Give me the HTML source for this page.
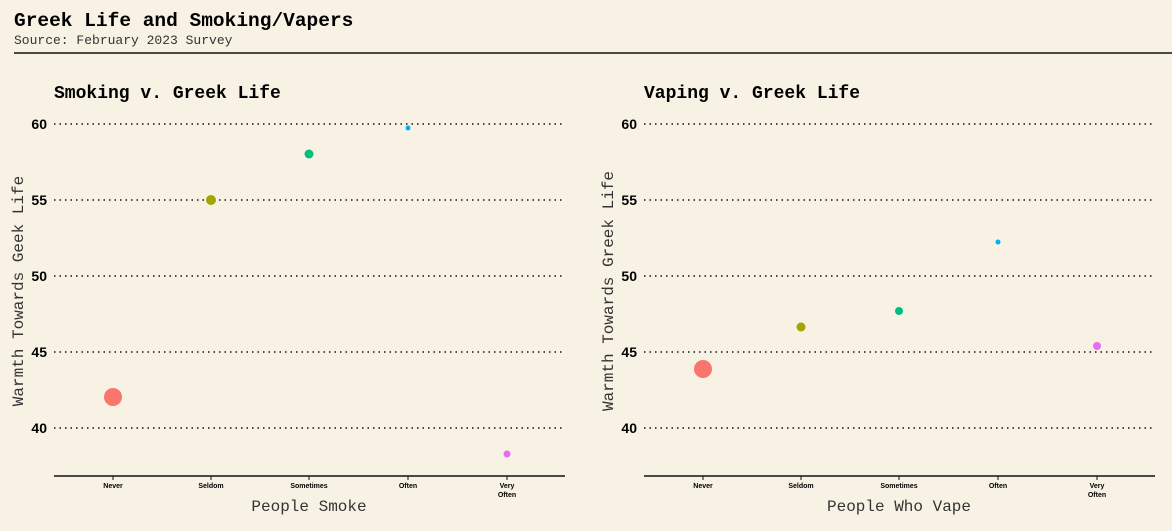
<!DOCTYPE html>
<html><head><style>
body{margin:0;background:#f8f2e5;}
svg{display:block}
</style></head><body>
<svg width="1172" height="531" xmlns="http://www.w3.org/2000/svg">
<rect width="1172" height="531" fill="#f8f2e5"/>
<text x="14" y="26" font-family="Liberation Mono, monospace" font-weight="bold" font-size="19.5" fill="#000">Greek Life and Smoking/Vapers</text>
<text x="14" y="44" font-family="Liberation Mono, monospace" font-size="13" fill="#333">Source: February 2023 Survey</text>
<line x1="14" y1="53" x2="1172" y2="53" stroke="#111" stroke-width="1.5"/>
<g font-family="Liberation Sans, sans-serif">
<!-- Left panel -->
<text x="54" y="98" font-family="Liberation Mono, monospace" font-weight="bold" font-size="18">Smoking v. Greek Life</text>
<g stroke="#111" stroke-width="1.6" stroke-dasharray="1.5,4">
<line x1="54" y1="124" x2="565" y2="124"/><line x1="54" y1="200" x2="565" y2="200"/><line x1="54" y1="276" x2="565" y2="276"/><line x1="54" y1="352" x2="565" y2="352"/><line x1="54" y1="428" x2="565" y2="428"/>
</g>
<g font-size="14" font-weight="bold" text-anchor="end"><text x="47" y="129">60</text><text x="47" y="205">55</text><text x="47" y="281">50</text><text x="47" y="357">45</text><text x="47" y="433">40</text></g>
<line x1="54" y1="476" x2="565" y2="476" stroke="#111" stroke-width="1.5"/>
<g stroke="#111"><line x1="113" y1="476" x2="113" y2="480"/><line x1="211" y1="476" x2="211" y2="480"/><line x1="309" y1="476" x2="309" y2="480"/><line x1="408" y1="476" x2="408" y2="480"/><line x1="507" y1="476" x2="507" y2="480"/></g>
<g font-size="7" font-weight="bold" text-anchor="middle"><text x="113" y="488">Never</text><text x="211" y="488">Seldom</text><text x="309" y="488">Sometimes</text><text x="408" y="488">Often</text><text x="507" y="488">Very</text><text x="507" y="497">Often</text></g>
<text x="309" y="511" text-anchor="middle" font-family="Liberation Mono, monospace" font-size="16" fill="#333">People Smoke</text>
<text transform="translate(23,291) rotate(-90)" text-anchor="middle" font-family="Liberation Mono, monospace" font-size="16" fill="#333">Warmth Towards Geek Life</text>
<circle cx="113" cy="397" r="9" fill="#F8766D"/>
<circle cx="211" cy="200" r="5" fill="#A3A500"/>
<circle cx="309" cy="154" r="4.5" fill="#00BF7D"/>
<circle cx="408" cy="128" r="2.5" fill="#00B0F6"/>
<circle cx="507" cy="454" r="3.5" fill="#E76BF3"/>
<!-- Right panel -->
<text x="644" y="98" font-family="Liberation Mono, monospace" font-weight="bold" font-size="18">Vaping v. Greek Life</text>
<g stroke="#111" stroke-width="1.6" stroke-dasharray="1.5,4">
<line x1="644" y1="124" x2="1155" y2="124"/><line x1="644" y1="200" x2="1155" y2="200"/><line x1="644" y1="276" x2="1155" y2="276"/><line x1="644" y1="352" x2="1155" y2="352"/><line x1="644" y1="428" x2="1155" y2="428"/>
</g>
<g font-size="14" font-weight="bold" text-anchor="end"><text x="637" y="129">60</text><text x="637" y="205">55</text><text x="637" y="281">50</text><text x="637" y="357">45</text><text x="637" y="433">40</text></g>
<line x1="644" y1="476" x2="1155" y2="476" stroke="#111" stroke-width="1.5"/>
<g stroke="#111"><line x1="703" y1="476" x2="703" y2="480"/><line x1="801" y1="476" x2="801" y2="480"/><line x1="899" y1="476" x2="899" y2="480"/><line x1="998" y1="476" x2="998" y2="480"/><line x1="1097" y1="476" x2="1097" y2="480"/></g>
<g font-size="7" font-weight="bold" text-anchor="middle"><text x="703" y="488">Never</text><text x="801" y="488">Seldom</text><text x="899" y="488">Sometimes</text><text x="998" y="488">Often</text><text x="1097" y="488">Very</text><text x="1097" y="497">Often</text></g>
<text x="899" y="511" text-anchor="middle" font-family="Liberation Mono, monospace" font-size="16" fill="#333">People Who Vape</text>
<text transform="translate(613,291) rotate(-90)" text-anchor="middle" font-family="Liberation Mono, monospace" font-size="16" fill="#333">Warmth Towards Greek Life</text>
<circle cx="703" cy="369" r="9" fill="#F8766D"/>
<circle cx="801" cy="327" r="4.5" fill="#A3A500"/>
<circle cx="899" cy="311" r="4" fill="#00BF7D"/>
<circle cx="998" cy="242" r="2.5" fill="#00B0F6"/>
<circle cx="1097" cy="346" r="4" fill="#E76BF3"/>
</g>
</svg>
</body></html>
